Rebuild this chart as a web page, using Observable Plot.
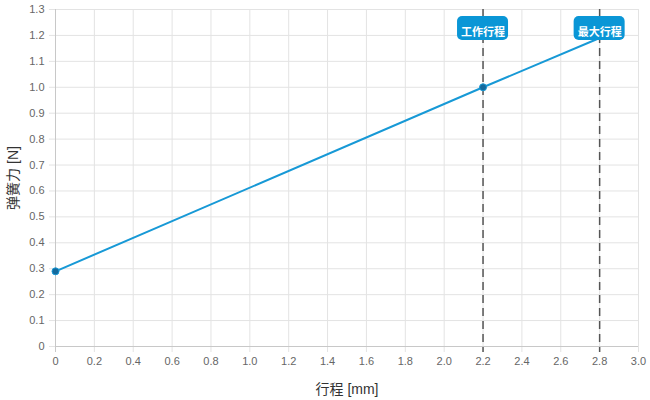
<!DOCTYPE html>
<html><head><meta charset="utf-8">
<script src="https://cdn.jsdelivr.net/npm/d3@7"></script>
<script src="https://cdn.jsdelivr.net/npm/@observablehq/plot@0.6"></script>
<style>
body{margin:0;background:#fff;font-family:"Liberation Sans",Arial,"Noto Sans CJK SC",sans-serif;}
</style>
</head><body><div id="chart"></div>
<script>
const strokeX = [0, 2.2, 2.8];
const forceY = [0.29, 1.0, 1.19];
const pointX = [0, 2.2];
const pointY = [0.29, 1.0];
const markerX = [2.2, 2.8];
const markerLabels = ["工作行程", "最大行程"];
const xTicks = d3.range(0, 16).map(i => i * 0.2);
const yTicks = d3.range(0, 14).map(i => i * 0.1);

const lineData = strokeX.map((x, i) => ({x, y: forceY[i]}));
const pointData = pointX.map((x, i) => ({x, y: pointY[i]}));
const markerData = markerX.map((x, i) => ({x, label: markerLabels[i]}));
const fmt = d => Math.abs(d) < 1e-9 ? "0" : d.toFixed(1);

const chart = Plot.plot({
  width: 650, height: 400,
  marginLeft: 55, marginRight: 12, marginTop: 9, marginBottom: 54,
  style: {fontFamily: '"Liberation Sans",Arial,"Noto Sans CJK SC",sans-serif', fontSize: "11px", color: "#666"},
  x: {domain: [0, 3], ticks: xTicks, tickFormat: fmt, label: "行程 [mm]", labelAnchor: "center", labelOffset: 42},
  y: {domain: [0, 1.3], ticks: yTicks, tickFormat: fmt, label: "弹簧力 [N]", labelAnchor: "center", labelOffset: 44},
  marks: [
    Plot.gridX(xTicks, {stroke: "#e3e3e3", strokeOpacity: 1, insetBottom: -6}),
    Plot.gridY(yTicks, {stroke: "#e3e3e3", strokeOpacity: 1, insetLeft: -6}),
    Plot.axisX({ticks: xTicks, tickFormat: fmt, tickSize: 0, tickPadding: 11, fill: "#666", label: null}),
    Plot.axisY({ticks: yTicks, tickFormat: fmt, tickSize: 0, tickPadding: 11, fill: "#666", label: null}),
    Plot.axisX({ticks: [], label: "行程 [mm]", labelAnchor: "center", labelOffset: 47, fontSize: 14, fill: "#333", labelArrow: "none"}),
    Plot.axisY({ticks: [], label: "弹簧力 [N]", labelAnchor: "center", labelOffset: 47, fontSize: 14, fill: "#333", labelArrow: "none"}),
    Plot.ruleX([0], {stroke: "#c8c8c8", insetBottom: -6}),
    Plot.ruleY([0], {stroke: "#c8c8c8"}),
    Plot.ruleX(markerX, {stroke: "#555", strokeWidth: 1.5, strokeDasharray: "8,5", insetBottom: -6}),
    Plot.line(lineData, {x: "x", y: "y", stroke: "#1799d6", strokeWidth: 2}),
    Plot.dot(pointData, {x: "x", y: "y", r: 3.5, fill: "#14699c", stroke: "#1799d6", strokeWidth: 1}),
    Plot.rect(markerData, {x1: "x", x2: "x", insetLeft: -25.5, insetRight: -25.5, insetTop: 7, insetBottom: 306, rx: 5, fill: "#0a96d6"}),
    Plot.text(markerData, {x: "x", text: "label", frameAnchor: "top", dy: 19, fill: "#fff", fontWeight: "bold", fontSize: 11, fontFamily: '"Noto Sans CJK SC",sans-serif'})
  ]
});
document.getElementById("chart").appendChild(chart);
</script>
</body></html>
